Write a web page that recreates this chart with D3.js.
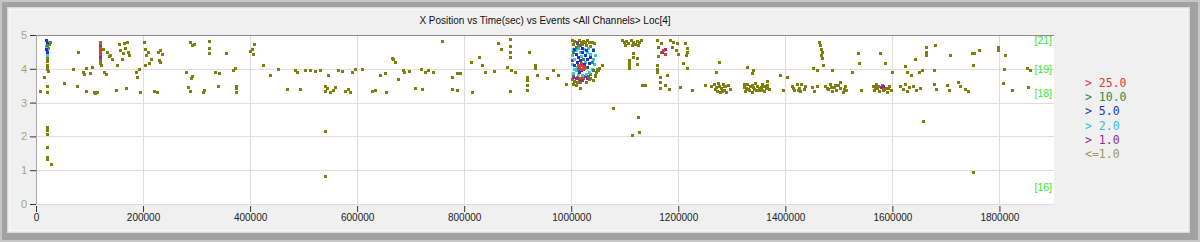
<!DOCTYPE html>
<html>
<head>
<meta charset="utf-8">
<script src="https://cdn.jsdelivr.net/npm/d3@7/dist/d3.min.js"></script>
<style>
  body { margin: 0; background: #f0f0f0; }
  svg { display: block; }
  .axis text { font-family: "Liberation Sans", Arial, sans-serif; font-size: 10px; }
</style>
</head>
<body>
<script>
// chart values
var chartTitle = 'X Position vs Time(sec) vs Events <All Channels> Loc[4]';
var xTicks = [0, 200000, 400000, 600000, 800000, 1000000, 1200000, 1400000, 1600000, 1800000];
var yTicks = [0, 1, 2, 3, 4, 5];
var channelLabels = ['[21]', '[19]', '[18]', '[16]'];
var channelPos = [4.85, 4.0, 3.28, 0.5];
var legendLabels = ['> 25.0', '> 10.0', '> 5.0', '> 2.0', '> 1.0', '<=1.0'];
var legendColors = ['#d83c3c', '#2e8b4a', '#2435b0', '#3cbcd4', '#8c2e94', '#9a9a5c'];

// <=1.0 events  [time, x position]
var eventsLow = [
  [7500,3.34],[15000,3.76],[20600,3.5],[20600,3.31],[20600,4.4],[20600,4.32],[20600,4.22],[20600,4.12],[20600,4.04],[20600,3.98],
  [22000,3.93],[26000,4.79],[24000,4.72],[22000,4.62],[20600,2.28],[20600,2.2],[20600,2.06],[20600,1.7],[20600,1.39],[20600,1.33],
  [28000,1.18],[52000,3.58],[69000,3.98],[77000,3.49],[78500,4.5],[87000,3.9],[90000,3.85],[93000,4.02],[94000,3.33],[101000,3.88],
  [104000,4.04],[108000,3.3],[111000,3.28],[114000,3.3],
  [120000,4.8],[120000,4.74],[120000,4.28],[120000,4.22],[120000,4.16],[121000,4.1],[126000,4.6],[127000,3.92],[130000,3.86],[133000,4.5],
  [136000,4.38],[139000,4.42],[142000,4.3],[150000,3.37],[152000,4.1],[155000,4.72],[157000,4.56],[160000,4.3],[162000,4.46],[165000,4.76],
  [167000,4.62],[170000,4.8],[171000,4.5],[173000,4.4],[168000,3.43],[186000,3.92],[189000,3.76],[192000,4.0],[194000,3.3],[201000,4.79],
  [204000,4.6],[206000,4.4],[209000,4.5],[203000,4.1],[215000,4.28],[212000,4.18],
  [221000,3.34],[226000,3.32],[228000,4.5],[232000,4.55],[236000,4.45],[229000,4.25],[231000,4.2],[280000,3.9],[284000,3.45],[287000,3.35],
  [288000,4.8],[292000,4.7],[295000,4.72],[292000,3.8],[290000,3.72],[312000,3.31],[314000,3.36],
  [323000,4.82],[323000,4.62],[323000,4.46],[335000,3.9],[340000,3.5],[342000,3.88],[355000,4.46],[369000,3.96],[372000,4.02],[374000,3.5],
  [374000,3.3],[374000,3.42],
  [400000,4.52],[403000,4.6],[407000,4.74],[405000,4.44],[424000,4.1],[437000,3.82],[452000,3.98],[469000,3.4],[484000,3.96],[488000,3.92],[493000,3.4],
  [503000,3.95],[512000,3.97],[521000,3.93],[531000,3.95],[540000,3.35],[540000,3.5],[543000,3.42],[546000,3.82],[550000,3.3],[555000,3.38],
  [559000,3.45],[564000,3.96],[572000,3.93],[578000,3.35],[583000,3.4],[587000,3.3],[591000,3.9],[596000,3.98],[540000,2.16],[540000,0.83],
  [609000,4.0],[628000,3.35],[634000,3.38],[643000,3.82],[652000,3.87],[654000,3.31],[665000,4.32],[667000,4.28],[671000,4.2],[677000,3.7],
  [685000,3.96],[688000,3.9],[697000,3.94],
  [708000,3.43],[720000,3.98],[726000,3.9],[732000,3.96],[742000,3.92],[721000,3.4],[759000,4.82],[778000,3.76],[787000,3.88],[778000,3.4],
  [787000,3.37],[792000,3.88],[813000,4.2],[815000,3.31],[828000,4.35],[834000,4.11],[839000,3.9],[856000,3.93],[864000,4.76],[869000,4.59],
  [886000,4.88],[886000,4.67],[886000,4.5],[886000,4.35],[880000,4.05],[888000,3.95],[895000,3.9],[886000,3.34],[918000,3.76],[918000,3.67],
  [918000,3.52],[918000,3.37],[921000,4.5],[933000,4.11],[933000,4.02],[936000,3.82],[955000,3.73],[966000,3.96],[976000,3.82],[991000,3.55],
  [1058000,4.11],[1052000,4.02],[1045000,3.82],[1035000,3.73],[1017000,3.61],[1017000,3.43],[1009000,3.52],[1078000,2.84],[1125000,2.58],
  [1114000,2.04],[1127000,2.13],
  [1002000,4.85],[1006000,4.82],[1010000,4.8],[1014000,4.85],[1018000,4.78],[1022000,4.82],[1026000,4.8],[1030000,4.84],[1034000,4.78],
  [1038000,4.8],[1004000,4.72],[1012000,4.7],[1020000,4.72],[1028000,4.7],[1036000,4.68],[1042000,4.75],
  [1002000,3.7],[1006000,3.65],[1010000,3.75],[1016000,3.68],[1022000,3.72],[1028000,3.62],[1034000,3.7],[1040000,3.66],[1004000,3.8],
  [1036000,3.85],[1044000,3.8],[1046000,3.9],[1048000,4.0],[1050000,3.95],[1004000,3.55],[1010000,3.6],
  [1095000,4.85],[1099000,4.78],[1103000,4.82],[1107000,4.76],[1111000,4.84],[1115000,4.8],[1119000,4.74],[1123000,4.82],[1127000,4.78],
  [1131000,4.85],[1101000,4.7],[1113000,4.7],[1125000,4.7],[1108000,4.26],[1108000,4.17],[1108000,4.08],[1108000,4.02],[1116000,4.47],
  [1116000,4.35],[1123000,4.32],[1123000,4.14],[1133000,3.52],[1138000,3.52],
  [1161000,4.85],[1167000,4.75],[1163000,4.64],[1167000,4.5],[1163000,4.38],[1185000,4.85],[1191000,4.8],[1197000,4.76],[1189000,4.65],
  [1195000,4.56],[1199000,4.44],[1161000,4.11],[1161000,4.0],[1161000,3.9],[1166000,3.76],[1166000,3.6],[1166000,3.43],[1179000,3.82],
  [1176000,3.52],[1183000,3.4],[1204000,3.46],[1213000,4.76],[1216000,4.62],[1216000,4.5],[1214000,4.41],[1209000,4.17],[1216000,4.02],
  [1226000,3.37],[1250000,3.52],
  [1266000,3.55],[1270000,3.45],[1272000,3.35],[1276000,3.5],[1278000,3.3],[1280000,3.42],[1283000,3.55],[1286000,3.38],[1288000,3.48],
  [1290000,3.32],[1277000,4.2],[1271000,3.9],[1293000,3.52],[1297000,3.4],
  [1268000,3.4],[1274000,3.58],[1281000,3.34],[1285000,3.5],[1262000,3.48],
  [1322000,3.45],[1325000,3.35],[1328000,3.55],[1331000,3.4],[1334000,3.5],[1337000,3.32],[1340000,3.45],[1343000,3.58],[1346000,3.38],
  [1323000,3.55],[1327000,3.42],[1333000,3.36],[1338000,3.52],[1342000,3.4],
  [1329000,4.05],[1340000,3.96],[1337000,3.88],
  [1348000,3.5],[1351000,3.36],[1354000,3.46],[1357000,3.55],[1360000,3.34],[1363000,3.44],[1366000,3.52],[1369000,3.4],[1366000,3.64],
  [1350000,3.44],[1356000,3.38],[1361000,3.5],[1365000,3.42],
  [1391000,3.82],[1395000,3.37],[1404000,3.76],[1413000,3.5],[1417000,3.38],[1421000,3.55],[1425000,3.44],[1428000,3.34],
  [1415000,3.44],[1423000,3.36],
  [1462000,4.8],[1465000,4.7],[1467000,4.6],[1469000,4.5],[1467000,4.4],[1469000,4.32],[1452000,4.02],[1460000,3.96],[1471000,4.11],
  [1488000,3.96],[1430000,3.55],[1434000,3.4],[1437000,3.5],[1450000,3.46],[1454000,3.35],[1459000,3.5],
  [1475000,3.5],[1479000,3.4],[1483000,3.55],[1487000,3.34],[1491000,3.46],[1495000,3.36],[1499000,3.52],[1503000,3.42],[1507000,3.32],
  [1511000,3.48],[1514000,3.38],[1503000,3.62],[1525000,3.9],[1535000,4.47],[1537000,4.17],[1542000,3.37],[1576000,4.47],[1587000,4.17],
  [1477000,3.44],[1485000,3.46],[1493000,3.52],[1509000,3.4],
  [1600000,3.9],[1563000,3.5],[1566000,3.38],[1569000,3.55],[1572000,3.44],[1575000,3.34],[1580000,3.52],[1585000,3.4],[1590000,3.32],
  [1594000,3.48],[1598000,3.38],[1567000,3.46],[1574000,3.5],[1582000,3.36],[1592000,3.42],
  [1615000,3.5],[1619000,3.4],[1624000,3.56],[1628000,3.34],[1632000,3.46],[1624000,4.08],[1628000,3.9],
  [1634000,3.82],[1643000,4.29],[1649000,3.9],[1656000,3.96],[1663000,4.64],[1663000,4.5],[1663000,4.41],[1680000,4.7],[1677000,3.96],
  [1639000,3.5],[1645000,3.38],[1651000,3.44],[1658000,2.46],[1677000,3.55],[1682000,3.4],[1703000,3.52],[1705000,3.36],[1708000,4.41],
  [1723000,3.61],[1727000,3.5],[1735000,3.4],[1742000,3.34],[1748000,4.47],[1752000,4.47],[1761000,4.56],[1750000,4.11],[1750000,0.96],
  [1798000,4.64],[1798000,4.56],[1811000,4.41],[1809000,3.99],[1806000,3.58],[1824000,3.37],[1852000,4.02],[1857000,3.96],[1854000,3.46]
];
// > 1.0 events
var eventsOver1 = [
  [120000,4.68],[120000,4.35],[1004000,3.75],[1008000,3.72],[1015000,3.7],[1020000,3.68],[1026000,3.78],[1002000,4.25],
  [1030000,3.72],[1010000,4.75],[1170000,4.5],[1175000,4.6],[1578000,3.45],[1583000,3.5]
];
// > 2.0 events
var eventsOver2 = [
  [20000,4.8],[19000,4.68],[20600,4.55],[21000,4.42],
  [1003000,4.6],[1008000,4.55],[1002000,4.4],[1006000,4.3],[1002000,4.15],[1005000,4.0],[1012000,4.62],[1016000,4.5],[1024000,4.58],
  [1030000,4.5],[1036000,4.45],[1040000,4.3],[1042000,4.15],[1038000,4.0],[1034000,3.9],[1028000,3.85],[1020000,3.82],[1012000,3.85],
  [1004000,3.88],[1010000,4.05],[1026000,4.2],[1018000,4.38],[1032000,4.62],[1044000,4.4],[1008000,3.95],[1040000,4.6]
];
// > 5.0 events
var eventsOver5 = [
  [19000,4.85],[20000,4.75],[19000,4.6],[20000,4.5],
  [1008000,4.45],[1012000,4.35],[1016000,4.25],[1020000,4.5],[1014000,4.1],[1022000,4.0],[1026000,4.4],[1030000,4.3],[1034000,4.18],
  [1030000,4.05],[1018000,3.95],[1010000,4.2],[1024000,4.15],[1036000,4.35],[1006000,4.6],[1028000,4.55],[1040000,4.55],[1020000,4.62],
  [1014000,3.9],[1006000,4.1]
];
// > 10.0 events
var eventsOver10 = [
  [20000,4.7],[1004000,4.5],[1016000,4.7],[1026000,4.05],[1038000,4.2],[1012000,4.0],[1032000,3.8],[1022000,4.3],[1040000,3.95],[1008000,4.65]
];
// > 25.0 events
var eventsOver25 = [
  [120000,4.62],[120000,4.52],[120000,4.44],[1014000,4.05],[1018000,4.1],[1022000,4.08],[1016000,3.98],[1020000,4.0],[1012000,4.12],
  [1024000,4.02],[1018000,4.18],[1016000,3.72],[1172000,4.55],[1176000,4.45],[1588000,3.42]
];

(function() {
    var w = 1200,
        h = 242;
    var plot = { left: 36, right: 1054, top: 35, bottom: 204 };

    var svg = d3.select('body')
        .append('svg')
        .attr('width', w)
        .attr('height', h);

    // window frame
    svg.append('rect').attr('width', w).attr('height', h).attr('fill', '#c6c6c6');
    svg.append('rect').attr('x', 2).attr('y', 2).attr('width', w - 4).attr('height', h - 4).attr('fill', '#a2a2a2');
    svg.append('rect').attr('x', 7).attr('y', 7).attr('width', 1183).attr('height', 226).attr('fill', '#dadada');
    svg.append('rect').attr('x', 9).attr('y', 9).attr('width', 1179).attr('height', 222)
        .attr('fill', '#f0f0f0').attr('stroke', '#fcfcfc').attr('stroke-width', 1);

    var x = d3.scaleLinear().domain([0, 1902000]).range([plot.left, plot.right]);
    var y = d3.scaleLinear().domain([0, 5]).range([plot.bottom, plot.top]);

    svg.append('text')
        .attr('x', (plot.left + plot.right) / 2)
        .attr('y', 24)
        .attr('text-anchor', 'middle')
        .style('font-family', '"Liberation Sans", Arial, sans-serif')
        .style('font-size', '10px')
        .attr('fill', '#111')
        .text(chartTitle);

    svg.append('rect')
        .attr('x', plot.left).attr('y', plot.top)
        .attr('width', plot.right - plot.left).attr('height', plot.bottom - plot.top)
        .attr('fill', '#fff');

    // grid
    var grid = svg.append('g').attr('stroke', '#dedede').attr('stroke-width', 1);
    grid.selectAll('.vg').data(xTicks).enter().append('line')
        .attr('x1', function(d) { return Math.round(x(d)) + 0.5; })
        .attr('x2', function(d) { return Math.round(x(d)) + 0.5; })
        .attr('y1', plot.top).attr('y2', plot.bottom);
    grid.selectAll('.hg').data(yTicks).enter().append('line')
        .attr('x1', plot.left).attr('x2', plot.right)
        .attr('y1', function(d) { return Math.round(y(d)) + 0.5; })
        .attr('y2', function(d) { return Math.round(y(d)) + 0.5; });

    // plot border (top and left darker)
    svg.append('line').attr('x1', plot.left).attr('x2', plot.right)
        .attr('y1', plot.top + 0.5).attr('y2', plot.top + 0.5).attr('stroke', '#8c8c8c');
    svg.append('line').attr('x1', plot.left + 0.5).attr('x2', plot.left + 0.5)
        .attr('y1', plot.top).attr('y2', plot.bottom).attr('stroke', '#a8a8a8');

    // axes
    var xAxis = svg.append('g')
        .attr('class', 'axis')
        .attr('transform', 'translate(0,' + (plot.bottom + 2) + ')')
        .call(d3.axisBottom(x).tickValues(xTicks).tickSize(6).tickPadding(2).tickFormat(d3.format('d')));
    xAxis.select('.domain').remove();
    xAxis.selectAll('line').attr('stroke', '#333');
    xAxis.selectAll('text').attr('fill', '#222');

    var yAxis = svg.append('g')
        .attr('class', 'axis')
        .attr('transform', 'translate(' + plot.left + ',0)')
        .call(d3.axisLeft(y).tickValues(yTicks).tickSize(6).tickPadding(3).tickFormat(d3.format('d')));
    yAxis.select('.domain').remove();
    yAxis.selectAll('line').attr('stroke', '#333');
    yAxis.selectAll('text').attr('fill', '#a4a47c').style('font-size', '11px');

    // events, lowest class first so higher counts sit on top
    var series = [
        { data: eventsLow, color: '#7f7f10' },
        { data: eventsOver1, color: '#8c2e94' },
        { data: eventsOver2, color: '#3cc4dc' },
        { data: eventsOver5, color: '#2233c8' },
        { data: eventsOver10, color: '#2e8b4a' },
        { data: eventsOver25, color: '#d83c3c' }
    ];
    series.forEach(function(s) {
        svg.append('g').selectAll('rect')
            .data(s.data).enter().append('rect')
            .attr('x', function(d) { return Math.round(x(d[0])) - 1; })
            .attr('y', function(d) { return Math.round(y(d[1])) - 1; })
            .attr('width', 3).attr('height', 3)
            .attr('fill', s.color);
    });

    // channel labels on the right edge
    svg.append('g').selectAll('text')
        .data(channelLabels).enter().append('text')
        .attr('x', plot.right - 2)
        .attr('y', function(d, i) { return y(channelPos[i]) + 4; })
        .attr('text-anchor', 'end')
        .style('font-family', '"Liberation Sans", Arial, sans-serif')
        .style('font-size', '10.5px')
        .attr('fill', '#36e636')
        .text(function(d) { return d; });

    // legend
    svg.append('g').selectAll('text')
        .data(legendLabels).enter().append('text')
        .attr('x', 1085)
        .attr('y', function(d, i) { return 87 + i * 14.2; })
        .style('font-family', '"DejaVu Sans Mono", "Liberation Mono", monospace')
        .style('font-size', '11.5px')
        .attr('fill', function(d, i) { return legendColors[i]; })
        .text(function(d) { return d; });
})();
</script>
</body>
</html>
